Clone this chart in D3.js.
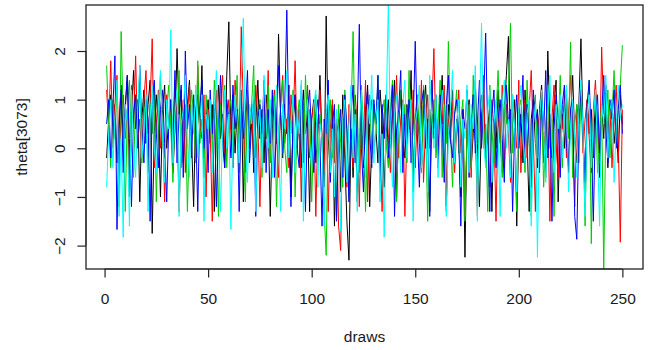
<!DOCTYPE html>
<html>
<head>
<meta charset="utf-8">
<script src="https://cdn.jsdelivr.net/npm/d3@7/dist/d3.min.js"></script>
<style>
  html, body { margin: 0; padding: 0; background: #fff; }
  svg { display: block; }
  text { font-family: "Liberation Sans", Arial, Helvetica, sans-serif; fill: #1a1a1a; }
</style>
</head>
<body>
<svg id="chart" width="652" height="350"></svg>
<script>
// ---- data ----
const xLabel = "draws";
const yLabel = "theta[3073]";
const xTicks = [0, 50, 100, 150, 200, 250];
const yTicks = [-2, -1, 0, 1, 2];
const chainColors = ["#000000", "#FF0000", "#00CD00", "#0000FF", "#00FFFF"];

const chain1 = [
 -0.2, 0.6, 1.1, 0.3, 0.9, -0.3, 0.5, 1.3, 0.2, 0.8,
 1.5, -0.9, 0.7, 1.6, 0.4, 1.0, -1.1, 0.6, 1.2, 0.1,
 0.9, 1.4, -1.75, 0.3, 1.1, 0.5, -1.0, 0.8, 1.3, 0.0,
 0.6, 1.0, -0.5, 0.4, 2.05, 0.7, 1.2, -0.3, 0.5, 0.9,
 1.4, 0.2, -1.2, 0.8, 1.1, 0.3, 1.7, -0.2, 0.6, 1.0,
 0.1, 0.9, -1.3, 0.5, 1.3, 0.2, 0.7, -0.4, 1.5, 2.6,
 0.4, 1.1, -0.1, 0.8, 0.3, 1.2, -1.1, 0.6, 1.0, 0.0,
 0.9, -0.5, 0.5, 1.4, 0.2, 0.8, -0.3, 1.1, 0.6, -1.4,
 0.4, 1.0, 0.1, 2.35, 0.7, -0.2, 0.9, 0.3, 1.3, -1.0,
 0.5, 1.1, 0.0, 0.8, -0.4, 1.2, 0.3, 0.7, -1.3, 0.6,
 1.0, -0.3, 0.4, 1.5, 0.1, -0.8, 2.72, 0.2, -0.5, 0.9,
 -1.6, 0.3, 0.6, -0.9, 1.1, -0.2, -1.5, -2.3, 0.4, -0.6,
 0.8, -1.1, 0.2, 1.0, -0.4, 0.5, 1.3, -1.2, 0.1, 0.9,
 0.4, -0.3, 1.2, 0.6, -0.8, 0.3, 1.0, 0.0, 0.7, 1.4,
 -1.0, 0.5, 1.1, 0.2, -0.2, 0.9, 0.4, 1.6, -0.6, 0.6,
 1.0, 0.1, -0.4, 0.8, 1.3, 0.3, -1.3, 0.7, 0.2, 1.1,
 -0.1, 0.5, 1.5, 0.0, -1.2, 0.9, 0.4, 1.2, -0.3, 0.6,
 0.2, -1.0, 0.8, -2.24, 0.5, 1.0, -0.4, 0.3, 1.4, 0.1,
 -1.2, 0.7, 1.1, -0.2, 0.4, 0.9, -1.3, 0.6, 0.0, 1.2,
 0.3, -0.5, 0.8, 1.5, 2.3, -0.1, 0.5, 1.0, -1.6, 0.4,
 0.7, -0.3, 1.2, 0.2, -1.3, 0.6, 1.0, 0.1, -0.4, 0.8,
 1.3, 0.3, -0.6, 2.0, 0.5, -0.2, 0.9, 1.4, -1.1, 0.4,
 0.7, 0.0, 1.1, -0.5, 0.6, 1.5, 0.2, -0.3, 0.9, 2.25,
 0.4, -1.2, 1.0, 0.3, 0.8, -0.2, 1.2, 0.5, -0.6, 0.9,
 0.2, 1.3, -0.4, 0.7, 1.0, 0.1, 0.6, -0.3, 1.1, 0.5
];
const chain2 = [
 1.2, 0.4, 1.8, 0.0, 0.9, 1.5, -0.3, 0.7, 1.1, 0.2,
 0.8, -1.0, 1.3, 0.5, 1.9, 0.1, 0.6, -0.2, 1.0, 1.6,
 0.3, 0.9, 2.25, -0.4, 0.5, 1.2, 0.0, 0.7, -1.1, 1.1,
 0.4, 0.8, -0.2, 1.4, 0.6, -1.3, 0.3, 1.0, -0.5, 0.7,
 1.3, 0.1, 0.9, -0.3, 1.7, 0.5, 0.2, 1.1, -1.0, 0.8,
 0.4, -1.5, 0.6, 1.2, 0.0, 0.9, 1.5, -0.1, 0.5, 1.0,
 0.3, -0.4, 1.4, 0.7, 0.1, 2.5, 0.8, -0.5, 1.1, 0.4,
 0.9, -0.2, 1.3, 0.6, -1.2, 0.5, 1.0, 0.2, 1.6, -0.3,
 0.7, 1.2, 0.3, -0.6, 0.9, 1.5, 0.1, 0.6, -0.4, 1.1,
 0.5, 1.8, 0.0, 0.8, -1.1, 1.0, 0.4, 1.3, -0.2, 0.6,
 0.9, -1.4, 0.5, 1.2, 0.2, -0.5, 0.8, -1.3, 0.4, 1.0,
 -0.3, 0.6, -1.6, -2.1, 0.7, 0.1, -0.8, 0.9, 0.3, -0.4,
 1.1, 0.5, -1.2, 0.8, 0.2, 1.4, -1.1, 0.6, 1.0, -0.1,
 0.4, 1.3, 0.0, -1.3, 0.7, 1.1, 0.3, -0.5, 0.9, 0.5,
 1.5, -0.2, 0.6, 1.0, -1.4, 0.4, 0.8, 0.1, 1.2, -0.4,
 0.7, 0.3, 1.4, -0.7, 0.5, 1.1, 0.0, 0.8, 2.05, 0.2,
 -0.3, 0.9, 0.5, 1.3, -1.3, 0.6, 0.1, 1.0, -0.5, 0.4,
 1.2, -0.1, 0.7, -1.4, 0.3, 0.9, -0.6, 1.1, 0.5, -1.4,
 0.8, 0.2, 1.5, -0.3, 0.6, -0.8, 1.0, 0.4, -1.5, 0.7,
 0.1, 1.3, -0.4, 0.9, 0.3, -0.7, 1.1, 0.5, 0.0, 1.4,
 -0.5, 0.6, 1.0, -0.2, 0.8, 1.6, 0.2, -1.3, 0.7, 0.4,
 1.2, -0.3, 0.5, 0.9, -1.5, 0.6, 1.3, 0.1, -0.6, 0.8,
 0.4, 1.1, -0.2, 0.7, 1.5, 0.3, -1.2, 0.9, 0.5, 1.2,
 -0.1, 0.6, 1.0, 0.2, -0.5, 0.8, 1.4, 0.4, -0.3, 2.08,
 0.7, 1.1, 0.3, 0.9, -0.4, 0.6, 1.3, 0.2, -1.93, 0.8
];
const chain3 = [
 1.7, 0.5, -0.4, 1.0, 0.2, 1.3, -1.2, 2.4, 0.6, -1.3,
 0.8, 1.4, 0.0, -0.6, 1.1, 0.4, 1.6, -0.3, 0.7, 1.0,
 -0.5, 0.9, 0.3, 1.2, -1.1, 0.6, 1.5, 0.1, -0.2, 0.8,
 1.3, 0.4, -0.7, 1.0, 0.2, 1.6, -0.4, 0.5, 0.9, -1.3,
 0.3, 1.2, 0.7, -0.3, 1.8, 0.1, 0.6, -0.6, 1.1, 0.4,
 0.8, -0.1, 1.4, 0.5, -1.4, 0.9, 0.2, 1.3, -0.4, 0.7,
 1.0, 0.0, 0.6, 1.5, -0.5, 0.8, 0.3, -1.1, 1.2, 0.4,
 0.9, 1.7, -0.2, 0.5, 1.0, -0.6, 0.7, 0.2, 1.3, -0.3,
 0.6, 1.1, -1.2, 0.4, 0.8, 1.4, 0.0, -0.5, 0.9, 0.3,
 1.2, -1.0, 0.6, 1.0, 0.1, -0.3, 1.5, 0.5, 0.8, -1.1,
 0.4, 1.1, -0.4, 0.7, 0.2, -1.3, -2.2, 0.6, 1.0, -0.2,
 0.5, -1.4, 0.9, 0.1, -0.8, 1.2, 0.3, -1.0, 0.7, 2.4,
 0.0, 0.8, -0.5, 1.3, 0.4, -1.3, 0.6, 1.1, -0.2, 0.9,
 0.3, 1.5, -0.6, 0.7, 1.0, 0.1, -0.4, 0.8, 1.4, 0.2,
 -1.1, 0.6, 1.2, 0.0, 0.9, -0.3, 1.6, 0.5, -0.9, 0.7,
 1.1, 0.3, -0.5, 1.3, 0.6, -1.5, 0.8, 0.2, 1.0, -0.2,
 0.5, 1.4, -0.6, 0.9, 0.1, 2.2, 0.4, -0.8, 0.7, 1.2,
 -0.1, 0.6, 1.0, -1.5, 0.3, 0.9, -0.4, 1.5, 0.2, -0.7,
 0.8, 1.1, 0.0, 0.5, -1.3, 1.3, 0.4, -0.3, 0.7, 1.6,
 0.2, -0.6, 0.9, 0.5, 1.2, 2.57, -0.1, 0.6, -1.3, 0.8,
 1.0, 0.3, -0.5, 1.4, 0.1, -1.4, 0.7, 1.1, -0.2, 0.5,
 0.9, -0.8, 0.4, 1.3, 0.0, 0.6, -1.4, 1.0, 0.3, 1.5,
 -0.4, 0.7, 1.2, 0.2, 2.18, -0.6, 0.5, 0.9, -0.3, 1.1,
 0.4, -1.6, 0.8, 1.4, -1.96, 0.6, 1.0, -0.5, 0.3, 0.9,
 -2.49, 0.5, 1.2, -0.2, 0.7, 1.6, 0.1, 0.8, 1.3, 2.12
];
const chain4 = [
 0.5, 1.0, -0.2, 0.8, 1.9, -1.67, 0.4, 1.2, -0.5, 0.9,
 1.5, 0.2, -1.2, 0.7, 1.1, 0.0, 1.7, 0.4, -0.3, 1.0,
 0.6, -1.5, 0.9, 1.4, 0.3, -0.4, 0.8, 1.2, 0.1, -1.1,
 0.5, 1.0, 0.2, 1.6, -0.3, 0.7, 1.3, -0.6, 2.0, 0.4,
 0.9, -0.2, 1.1, 0.5, -1.3, 0.8, 1.4, 0.0, 0.6, -0.5,
 1.2, 0.3, 0.9, -1.2, 0.5, 1.5, 0.1, -0.4, 1.0, 0.6,
 -0.2, 1.3, 0.4, 0.8, -1.3, 1.1, 0.2, 0.7, 1.6, -0.3,
 0.5, 1.0, -1.4, 0.6, 0.9, 0.3, 1.4, -0.5, 0.8, 0.1,
 1.2, -0.6, 0.4, 1.7, 0.7, -0.1, 0.9, 2.84, 0.3, -1.2,
 0.6, 1.1, 0.0, -0.4, 1.3, 0.5, -1.3, 0.8, 1.2, 0.2,
 -0.5, 0.7, 1.0, 0.1, -1.6, 0.6, 0.3, 1.4, -0.7, 0.5,
 0.9, -1.5, 0.2, 0.8, -0.6, 1.1, 0.4, -1.1, 0.7, 1.3,
 -0.3, 0.6, 2.55, 0.0, -0.9, 0.8, 1.2, 0.3, -0.4, 1.0,
 0.5, 1.5, -0.7, 0.9, 0.2, 1.1, -0.2, 0.6, 1.3, -1.4,
 0.4, 0.8, 1.6, -0.5, 0.7, 0.1, 1.0, -0.3, 0.5, 2.2,
 0.3, -0.8, 0.9, 1.2, 0.0, 0.6, -1.4, 1.4, 0.4, 0.8,
 -0.4, 1.1, 0.5, -0.7, 0.9, 1.5, 0.2, -0.2, 0.7, 1.0,
 0.3, -1.6, 0.8, 0.4, 1.2, -0.6, 0.6, 1.1, -0.1, 0.5,
 1.4, 0.0, 0.9, 2.37, 0.3, -1.3, 0.7, 1.2, -0.4, 0.6,
 1.0, 0.2, -0.7, 1.3, 0.5, 0.8, -1.3, 0.4, 1.1, 0.0,
 0.6, 1.5, -0.3, 0.9, 0.2, -0.8, 1.2, 0.5, 0.8, -0.5,
 1.0, 0.3, 1.6, -0.2, 0.7, -1.5, 0.4, 1.1, 0.6, -0.6,
 0.9, 1.3, 0.1, -0.4, 0.8, 1.0, -1.4, -1.87, 0.5, 1.2,
 0.3, -0.7, 0.9, 1.4, 0.2, -1.5, 0.6, 1.1, -0.1, 0.7,
 1.5, 0.4, -0.3, 1.0, 0.6, 1.2, 0.0, 0.8, 1.3, 0.3
];
const chain5 = [
 -0.8, 0.3, 1.0, -0.4, 0.6, 1.4, -1.4, 0.2, -1.83, 0.9,
 0.5, -1.6, 1.2, 0.1, -0.6, 0.8, 1.7, -0.2, 0.4, 1.1,
 -1.3, 0.6, 1.3, 0.0, -0.5, 0.9, 1.6, 0.3, -0.7, 1.0,
 0.4, 2.43, -0.3, 0.7, 1.2, -1.4, 0.5, 0.8, 1.5, 0.1,
 -0.6, 0.9, 0.3, 1.3, -0.2, 0.6, 1.1, -1.5, 0.7, 0.4,
 1.0, -0.5, 0.8, 1.6, 0.2, -1.3, 0.5, 1.2, 0.0, 0.7,
 -1.67, 0.4, 1.1, 0.6, -0.3, 1.4, 2.67, 0.1, -0.7, 0.9,
 0.5, 1.2, -1.3, 0.3, 0.8, -0.4, 1.5, 0.6, 0.0, 1.0,
 -0.6, 0.7, 1.3, 0.2, -1.3, 0.9, 0.4, 1.6, -0.2, 0.5,
 1.1, -0.5, 0.8, 0.3, 1.4, -1.5, 0.6, 1.0, 0.1, -0.4,
 0.9, 1.2, -0.8, 0.5, 0.2, -1.6, 0.7, 1.1, -0.5, 0.4,
 -1.0, 0.8, 0.3, -1.7, 0.6, 1.0, -0.7, 0.5, 1.3, -0.2,
 0.7, -1.3, 0.4, 1.2, 0.0, -0.6, 0.9, 0.5, 1.5, -0.3,
 0.6, 1.0, -1.1, 0.3, -1.83, 0.8, 3.0, 0.2, -0.8, 0.7,
 1.1, 0.4, -0.5, 0.9, 1.4, -0.2, 0.6, 1.0, -1.5, 0.5,
 0.8, 1.3, -0.4, 0.2, 0.9, -0.9, 1.5, 0.6, 0.0, 1.1,
 -0.6, 0.4, 1.2, 0.7, -1.4, 0.3, 0.8, 1.6, -0.3, 0.5,
 1.0, -0.8, 0.6, 0.2, 1.3, -0.5, 0.9, 0.4, 1.7, -1.5,
 0.7, 2.57, 0.1, -0.4, 0.8, 1.2, -0.7, 0.5, 1.0, 0.3,
 -1.4, 0.9, 1.4, 0.0, 0.6, -0.6, 1.1, 0.4, -0.9, 0.8,
 1.3, 0.2, -0.3, 0.7, 1.0, -1.6, 0.5, 0.9, -2.24, 0.6,
 1.2, 0.3, -0.7, 0.8, 1.5, 0.1, -0.5, 0.9, 0.4, 1.1,
 -0.2, 0.6, 1.3, -0.9, 0.5, 1.0, 0.2, -0.6, 0.8, 1.4,
 0.3, -1.4, 0.7, 1.1, -0.4, 0.6, 1.2, 0.0, -1.6, 0.9,
 0.5, 1.5, -0.2, 0.8, 1.0, -0.7, 0.4, 1.3, 0.6, 0.9
];
const chains = [chain1, chain2, chain3, chain4, chain5];

// ---- layout ----
const plot = { left: 86, right: 643, top: 5, bottom: 269 };
const svg = d3.select("#chart");

const nDraws = chain1.length;
const xPad = (nDraws - 1) * 0.04;
const x = d3.scaleLinear().domain([1 - xPad, nDraws + xPad]).range([plot.left, plot.right]);
const y = d3.scaleLinear().domain([-2, 2]).range([245.6, 51]);

svg.append("defs").append("clipPath").attr("id", "clip")
  .append("rect")
  .attr("x", plot.left).attr("y", plot.top)
  .attr("width", plot.right - plot.left).attr("height", plot.bottom - plot.top);

const line = d3.line().x((d, i) => x(i + 1)).y(d => y(d));

const g = svg.append("g").attr("clip-path", "url(#clip)");
chains.forEach((c, k) => {
  g.append("path")
    .datum(c)
    .attr("d", line)
    .attr("fill", "none")
    .attr("stroke", chainColors[k])
    .attr("stroke-width", 1);
});

// box
svg.append("rect")
  .attr("x", plot.left).attr("y", plot.top)
  .attr("width", plot.right - plot.left).attr("height", plot.bottom - plot.top)
  .attr("fill", "none").attr("stroke", "#222").attr("stroke-width", 1.3);

// x axis
const xAxis = d3.axisBottom(x).tickValues(xTicks).tickSize(8.6).tickPadding(0).tickFormat(d3.format("d"));
const gx = svg.append("g").attr("transform", `translate(0,${plot.bottom})`).call(xAxis);
gx.select(".domain").attr("d", `M${x(xTicks[0])},0H${x(xTicks[xTicks.length-1])}`).attr("stroke", "#222");
gx.selectAll(".tick line").attr("stroke", "#222").attr("stroke-width", 1.2);
gx.selectAll(".tick text")
  .attr("y", 35).attr("dy", null)
  .style("font-size", "15.5px")
  .style("font-family", "'Liberation Sans', Arial, sans-serif")
  .attr("fill", "#1a1a1a");

// y axis
const yAxis = d3.axisLeft(y).tickValues(yTicks).tickSize(8.6).tickPadding(0).tickFormat(d3.format("d"));
const gy = svg.append("g").attr("transform", `translate(${plot.left},0)`).call(yAxis);
gy.select(".domain").attr("d", `M0,${y(yTicks[0])}V${y(yTicks[yTicks.length-1])}`).attr("stroke", "#222");
gy.selectAll(".tick line").attr("stroke", "#222").attr("stroke-width", 1.2);
gy.selectAll(".tick text")
  .attr("x", null).attr("dy", null)
  .attr("text-anchor", "middle")
  .attr("transform", "translate(-21,0) rotate(-90)")
  .style("font-size", "15.5px")
  .style("font-family", "'Liberation Sans', Arial, sans-serif")
  .attr("fill", "#1a1a1a");

// axis titles
svg.append("text")
  .attr("x", (plot.left + plot.right) / 2).attr("y", 342)
  .attr("text-anchor", "middle")
  .style("font-size", "15.5px")
  .text(xLabel);

svg.append("text")
  .attr("transform", `translate(27,${(plot.top + plot.bottom) / 2}) rotate(-90)`)
  .attr("text-anchor", "middle")
  .style("font-size", "15.5px")
  .text(yLabel);
</script>
</body>
</html>
